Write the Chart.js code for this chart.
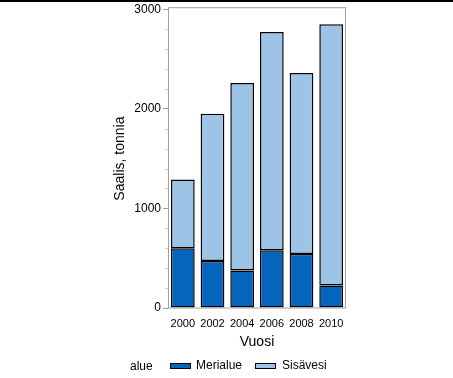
<!DOCTYPE html>
<html>
<head>
<meta charset="utf-8">
<script src="https://cdn.jsdelivr.net/npm/chart.js@4"></script>
<style>
  body { margin: 0; background: #fff; }
  #wrap { position: relative; width: 453px; height: 378px; }
  #topline { position: absolute; left: 0; top: 0; width: 453px; height: 2px; background: #000; }
  #legend { position: absolute; top: 358px; left: 0; width: 453px; height: 16px; font: 12px "Liberation Sans", Arial, sans-serif; color: #000; }
  #legend .t { position: absolute; white-space: nowrap; line-height: 14px; }
  #legend .b { position: absolute; display: block; box-sizing: border-box; width: 21px; height: 6px; border: 1px solid #000; }
</style>
</head>
<body>
<div id="wrap">
  <canvas id="myChart" width="453" height="378"></canvas>
  <div id="topline"></div>
  <div id="legend">
    <div class="t" style="left:130px;top:1px">alue</div>
    <div class="b" style="left:170px;top:5px;background:#0565bd"></div>
    <div class="t" style="left:196px;top:0px">Merialue</div>
    <div class="b" style="left:255px;top:5px;background:#9dc3e6"></div>
    <div class="t" style="left:282px;top:0px">Sisävesi</div>
  </div>
</div>
<script>
const years = ['2000', '2002', '2004', '2006', '2008', '2010'];
const merialue = [600, 472, 376, 581, 541, 225];
const sisavesi = [690, 1478, 1884, 2189, 1819, 2625];
const yTicks = [0, 1000, 2000, 3000];

const frameAndMinor = {
  id: 'frameAndMinor',
  afterDraw(chart) {
    const ctx = chart.ctx;
    const a = chart.chartArea;
    const y = chart.scales.y;
    ctx.save();
    ctx.strokeStyle = '#a0a0a0';
    ctx.lineWidth = 1;
    ctx.strokeRect(a.left + 0.5, a.top - 1.5, a.right - a.left - 1, a.bottom - a.top + 1.5);
    ctx.strokeStyle = '#d0d0d0';
    for (let v = 200; v < 3000; v += 200) {
      if (v % 1000 === 0) continue;
      let py = Math.round(y.getPixelForValue(v)) + 0.5;
      ctx.beginPath();
      ctx.moveTo(a.left - 3, py);
      ctx.lineTo(a.left, py);
      ctx.stroke();
    }
    ctx.restore();
  }
};

Chart.defaults.font.family = '"Liberation Sans", Arial, sans-serif';
Chart.defaults.color = '#000';

new Chart(document.getElementById('myChart'), {
  type: 'bar',
  data: {
    labels: years,
    datasets: [{
      label: 'Merialue',
      data: merialue,
      backgroundColor: '#0565bd',
      borderColor: '#000',
      borderWidth: 1.5,
      borderSkipped: false
    }, {
      label: 'Sisävesi',
      data: sisavesi,
      backgroundColor: '#9dc3e6',
      borderColor: '#000',
      borderWidth: 1.5,
      borderSkipped: false
    }]
  },
  options: {
    responsive: false,
    animation: false,
    layout: { padding: { left: 108, right: 107, top: 2, bottom: 23 } },
    barPercentage: 0.8,
    categoryPercentage: 1,
    plugins: {
      legend: { display: false },
      tooltip: { enabled: false }
    },
    scales: {
      x: {
        stacked: true,
        grid: { display: false, drawTicks: false },
        border: { display: false },
        ticks: { font: { size: 11 }, padding: 9, maxRotation: 0 },
        title: { display: true, text: 'Vuosi', font: { size: 14 }, padding: { top: 7 } },
        afterFit(scale) { scale.height = 47; }
      },
      y: {
        stacked: true,
        min: 0,
        max: 3000,
        afterBuildTicks(scale) { scale.ticks = yTicks.map(v => ({ value: v })); },
        grid: { drawOnChartArea: false, color: '#a0a0a0', tickLength: 5 },
        border: { display: false },
        ticks: { font: { size: 12 }, padding: 2, callback: v => String(v) },
        title: { display: true, text: 'Saalis, tonnia', font: { size: 14 }, padding: { bottom: 4 } },
        afterFit(scale) { scale.width = 60; }
      }
    }
  },
  plugins: [frameAndMinor]
});
</script>
</body>
</html>
